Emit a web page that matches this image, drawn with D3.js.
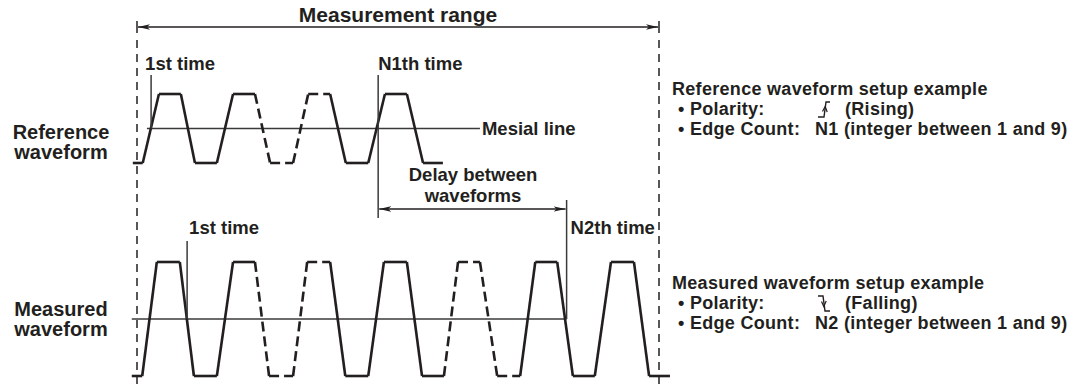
<!DOCTYPE html>
<html><head><meta charset="utf-8">
<script src="https://cdn.jsdelivr.net/npm/d3@7"></script>
<style>
html,body{margin:0;padding:0;background:#fff;}
svg{display:block;}
text{font-family:"Liberation Sans",Arial,Helvetica,sans-serif;font-weight:bold;fill:#231f20;}
</style></head>
<body>
<svg id="chart" width="1082" height="385"></svg>
<script>
// ---- Data (time in arbitrary units across the measurement range 0..100; level 0 = low, 1 = high)
const refTimes   = [-0.8, 1.1, 4.2, 8.4, 11.1, 15.3, 18.4, 22.6, 25.5, 29.9, 32.8, 37.0, 40.0, 44.3, 47.5, 51.7, 54.8, 58.6];
const refLevels  = [0, 0, 1, 1, 0, 0, 1, 1, 0, 0, 1, 1, 0, 0, 1, 1, 0, 0];
const refDashed  = [0, 0, 0, 0, 0, 0, 0, 1, 1, 1, 1, 0, 0, 0, 0, 0, 0];   // style of segment i -> i+1
const measTimes  = [-1.0, 1.0, 3.8, 8.2, 10.9, 15.3, 18.4, 22.6, 25.3, 29.9, 32.6, 37.0, 39.9, 44.3, 47.3, 51.7, 54.6, 58.8, 61.5, 65.7, 69.0, 73.4, 76.3, 80.5, 83.5, 87.7, 90.8, 95.2, 98.1, 102.1];
const measLevels = [0, 0, 1, 1, 0, 0, 1, 1, 0, 0, 1, 1, 0, 0, 1, 1, 0, 0, 1, 1, 0, 0, 1, 1, 0, 0, 1, 1, 0, 0];
const measDashed = [0, 0, 0, 0, 0, 0, 0, 1, 1, 1, 1, 0, 0, 0, 0, 0, 0, 1, 1, 1, 1, 0, 0, 0, 0, 0, 0, 0, 0];
const mesialLevel = [0.5];
const refMarkers  = [2.7, 46.2];      // 1st time, N1th time
const measMarkers = [9.6, 82.3];      // 1st time, N2th time
const refMesialSpan  = [1.9, 65.7];
const measMesialSpan = [-1.0, 82.3];
const markerLabels = ["1st time", "N1th time", "1st time", "N2th time"];
const rangeLabel = ["Measurement range"];
const delayLabel = ["Delay between", "waveforms"];
const rowLabels = [["Reference", "waveform"], ["Measured", "waveform"]];
const refSetup  = ["Reference waveform setup example", "Polarity:", "(Rising)", "Edge Count:", "N1 (integer between 1 and 9)"];
const measSetup = ["Measured waveform setup example", "Polarity:", "(Falling)", "Edge Count:", "N2 (integer between 1 and 9)"];

// ---- Layout
const ink = "#231f20";
const svg = d3.select("#chart");
const x = d3.scaleLinear().domain([0, 100]).range([137, 659]);
const yRef  = d3.scaleLinear().domain([0, 1]).range([163, 94]);
const yMeas = d3.scaleLinear().domain([0, 1]).range([376, 262]);

const defs = svg.append("defs");
function marker(id, orient){
  defs.append("marker").attr("id", id).attr("viewBox","0 0 12 8")
    .attr("refX", 12).attr("refY", 4).attr("markerWidth", 12).attr("markerHeight", 8)
    .attr("markerUnits","userSpaceOnUse").attr("orient", orient)
    .append("path").attr("d","M0,1.3 L12,4 L0,6.7 L3,4 Z").attr("fill", ink);
}
marker("arrEnd","auto");
marker("arrStart","auto-start-reverse");

// Boundary dashed lines
[0, 100].forEach(t => {
  svg.append("line").attr("x1", x(t)).attr("x2", x(t)).attr("y1", 21).attr("y2", 33)
    .attr("stroke", ink).attr("stroke-width", 1.5);
  svg.append("line").attr("x1", x(t)).attr("x2", x(t)).attr("y1", 40).attr("y2", 385)
    .attr("stroke", ink).attr("stroke-width", 1.5).attr("stroke-dasharray", "8,6");
});
// Measurement range arrow
svg.append("line").attr("x1", x(0)+1).attr("x2", x(100)-1).attr("y1", 27).attr("y2", 27)
  .attr("stroke", ink).attr("stroke-width", 1.3)
  .attr("marker-start","url(#arrStart)").attr("marker-end","url(#arrEnd)");
svg.append("text").attr("x", x(50)).attr("y", 22).attr("text-anchor","middle")
  .attr("font-size", 21).text(rangeLabel[0]);

// Mesial lines
svg.append("line").attr("x1", x(refMesialSpan[0])).attr("x2", x(refMesialSpan[1]))
  .attr("y1", yRef(mesialLevel[0])).attr("y2", yRef(mesialLevel[0]))
  .attr("stroke", "#3a3a3a").attr("stroke-width", 1.5);
svg.append("line").attr("x1", x(measMesialSpan[0])).attr("x2", x(measMesialSpan[1]))
  .attr("y1", yMeas(mesialLevel[0])).attr("y2", yMeas(mesialLevel[0]))
  .attr("stroke", "#3a3a3a").attr("stroke-width", 1.5);

// Waveforms
function drawWave(times, levels, dashed, y){
  for (let i = 0; i < times.length - 1; i++){
    svg.append("line")
      .attr("x1", x(times[i])).attr("y1", y(levels[i]))
      .attr("x2", x(times[i+1])).attr("y2", y(levels[i+1]))
      .attr("stroke", ink).attr("stroke-width", 2.6).attr("stroke-linecap","butt")
      .attr("stroke-dasharray", dashed[i] ? "10,5" : null);
  }
}
drawWave(refTimes, refLevels, refDashed, yRef);
drawWave(measTimes, measLevels, measDashed, yMeas);

// Marker lines
const vline = (t, y1, y2) => svg.append("line").attr("x1", x(t)).attr("x2", x(t))
  .attr("y1", y1).attr("y2", y2).attr("stroke", "#3a3a3a").attr("stroke-width", 1.5);
vline(refMarkers[0], 75, yRef(mesialLevel[0]));
vline(refMarkers[1], 75, 218);
vline(measMarkers[0], 241, yMeas(mesialLevel[0]));
vline(measMarkers[1], 200, yMeas(mesialLevel[0]));

// Delay arrow
svg.append("line").attr("x1", x(refMarkers[1])+1).attr("x2", x(measMarkers[1])-1).attr("y1", 209).attr("y2", 209)
  .attr("stroke", ink).attr("stroke-width", 1.3)
  .attr("marker-start","url(#arrStart)").attr("marker-end","url(#arrEnd)");
delayLabel.forEach((s, i) => svg.append("text").attr("x", 473).attr("y", 181 + i*21)
  .attr("text-anchor","middle").attr("font-size", 18.5).text(s));

// Marker labels
svg.append("text").attr("x", x(refMarkers[0]) - 6).attr("y", 70).attr("font-size", 18.5).text(markerLabels[0]);
svg.append("text").attr("x", x(refMarkers[1])).attr("y", 70).attr("font-size", 18.5).text(markerLabels[1]);
svg.append("text").attr("x", x(measMarkers[0]) + 2).attr("y", 234).attr("font-size", 18.5).text(markerLabels[2]);
svg.append("text").attr("x", x(measMarkers[1]) + 4).attr("y", 234).attr("font-size", 18.5).text(markerLabels[3]);
svg.append("text").attr("x", x(refMesialSpan[1]) + 2).attr("y", 135).attr("font-size", 18.5).text("Mesial line");

// Row labels
rowLabels[0].forEach((s, i) => svg.append("text").attr("x", 61).attr("y", 139 + i*20)
  .attr("text-anchor","middle").attr("font-size", 20).text(s));
rowLabels[1].forEach((s, i) => svg.append("text").attr("x", 61).attr("y", 316 + i*20)
  .attr("text-anchor","middle").attr("font-size", 20).text(s));

// Setup text blocks
function setupBlock(lines, top, rising){
  const fs = 18, ls = "0.3px", l1 = top + 20, l2 = top + 40;
  svg.append("text").attr("x", 672).attr("y", top).attr("font-size", fs).attr("letter-spacing", ls).text(lines[0]);
  svg.append("text").attr("x", 678).attr("y", l1).attr("font-size", fs).attr("letter-spacing", ls).text("\u2022 " + lines[1]);
  svg.append("text").attr("x", 845).attr("y", l1).attr("font-size", fs).attr("letter-spacing", ls).text(lines[2]);
  svg.append("text").attr("x", 678).attr("y", l2).attr("font-size", fs).attr("letter-spacing", ls).text("\u2022 " + lines[3]);
  svg.append("text").attr("x", 815).attr("y", l2).attr("font-size", fs).attr("letter-spacing", ls).text(lines[4]);
  const sx = 818, sb = l1 + 2, st = l1 - 13;
  const d = rising
    ? `M${sx},${sb} H${sx+6} L${sx+8},${st} H${sx+12}`
    : `M${sx},${st} H${sx+5} L${sx+7},${sb} H${sx+12}`;
  svg.append("path").attr("d", d).attr("fill","none").attr("stroke", ink).attr("stroke-width", 1.4);
  const mx = rising ? sx+7 : sx+6, my = (sb + st)/2;
  const ad = rising
    ? `M${mx-2.5},${my+2} L${mx+0.2},${my-3} L${mx+2.2},${my+2.5}`
    : `M${mx-2.5},${my-2} L${mx-0.2},${my+3} L${mx+2.2},${my-2.5}`;
  svg.append("path").attr("d", ad).attr("fill","none").attr("stroke", ink).attr("stroke-width", 1.2);
}
setupBlock(refSetup, 95, true);
setupBlock(measSetup, 289, false);
</script>
</body></html>
